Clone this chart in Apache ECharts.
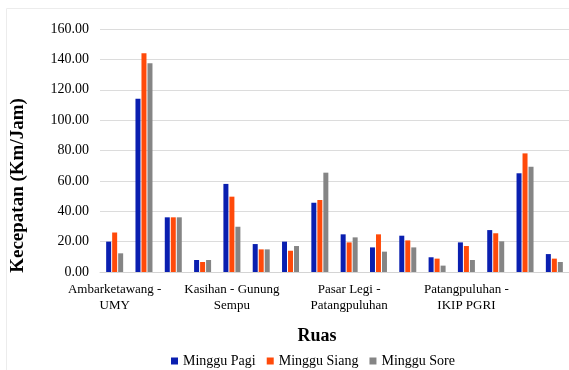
<!DOCTYPE html>
<html>
<head>
<meta charset="utf-8">
<script src="https://cdn.jsdelivr.net/npm/echarts@6/dist/echarts.min.js"></script>
<style>
  html, body { margin: 0; padding: 0; background: #fff; }
  #chart { width: 569px; height: 370px; }
</style>
</head>
<body>
<div id="chart"></div>
<script>
// categories: only every 4th label is visible in the figure
const categories = [
    'Ambarketawang - UMY', 'Ruas 2', 'Ruas 3', 'Ruas 4',
    'Kasihan - Gunung Sempu', 'Ruas 6', 'Ruas 7', 'Ruas 8',
    'Pasar Legi - Patangpuluhan', 'Ruas 10', 'Ruas 11', 'Ruas 12',
    'Patangpuluhan - IKIP PGRI', 'Ruas 14', 'Ruas 15', 'Ruas 16'
]
const minggupagi = [20.0, 114.0, 36.0, 7.9, 58.0, 18.4, 20.0, 45.6, 24.8, 16.2, 23.9, 9.7, 19.5, 27.6, 65.0, 11.8]
const mingguSiang = [26.0, 144.0, 36.0, 6.6, 49.6, 14.9, 14.0, 47.4, 19.5, 24.8, 20.8, 8.8, 17.1, 25.5, 78.1, 8.8]
const mingguSore = [12.3, 137.4, 36.0, 7.9, 29.8, 14.9, 17.1, 65.4, 22.8, 13.4, 16.2, 4.2, 7.9, 20.2, 69.3, 6.6]
const seriesNames = ['Minggu Pagi', 'Minggu Siang', 'Minggu Sore']
const colors = ['#0a1fb0', '#ff4a0a', '#858585']

const serif = 'Liberation Serif'

function barSeries(name, data) {
    return {
        name: name,
        type: 'bar',
        barWidth: 5,
        barGap: '20%',
        data: data
    }
}

const legendStyle = { fontFamily: serif, fontSize: 14, color: '#000' }

const chart = echarts.init(document.getElementById('chart'))
chart.setOption({
    animation: false,
    color: colors,
    textStyle: { fontFamily: serif },
    graphic: [{
        type: 'rect',
        left: 4,
        top: 6,
        shape: { width: 580, height: 380 },
        style: { fill: 'none', stroke: '#ececec', lineWidth: 1 },
        silent: true
    }],
    grid: {
        left: 100,
        right: 0,
        top: 29,
        bottom: 98
    },
    legend: {
        bottom: -3,
        left: 166,
        itemWidth: 7,
        itemHeight: 7,
        itemGap: 11,
        icon: 'rect',
        textStyle: legendStyle,
        data: seriesNames.map(function (n) { return { name: n, textStyle: legendStyle } })
    },
    xAxis: {
        type: 'category',
        data: categories,
        name: 'Ruas',
        nameLocation: 'middle',
        nameGap: 55,
        nameTextStyle: { fontFamily: serif, fontSize: 18, fontWeight: 'bold', color: '#000', padding: [0, 0, 0, -35] },
        axisLine: { lineStyle: { color: '#d4d4d4', width: 1 } },
        axisTick: { show: false },
        axisLabel: {
            interval: 3,
            fontFamily: serif,
            fontSize: 13,
            color: '#000',
            lineHeight: 16,
            margin: 10,
            formatter: function (v) {
                const parts = v.split(' - ')
                if (v === 'Kasihan - Gunung Sempu') return 'Kasihan - Gunung\nSempu'
                return parts[0] + ' -\n' + parts[1]
            }
        }
    },
    yAxis: {
        type: 'value',
        min: 0,
        max: 160,
        interval: 20,
        name: 'Kecepatan (Km/Jam)',
        nameLocation: 'middle',
        nameGap: 72,
        nameTextStyle: { fontFamily: serif, fontSize: 19, fontWeight: 'bold', color: '#000', padding: [0, 70, 0, 0] },
        axisLine: { show: false },
        axisTick: { show: false },
        axisLabel: {
            fontFamily: serif,
            fontSize: 14,
            color: '#000',
            margin: 11,
            formatter: function (v) { return v.toFixed(2) }
        },
        splitLine: { lineStyle: { color: '#dcdcdc', width: 1 } }
    },
    series: [
        barSeries(seriesNames[0], minggupagi),
        barSeries(seriesNames[1], mingguSiang),
        barSeries(seriesNames[2], mingguSore)
    ]
})
</script>
</body>
</html>
